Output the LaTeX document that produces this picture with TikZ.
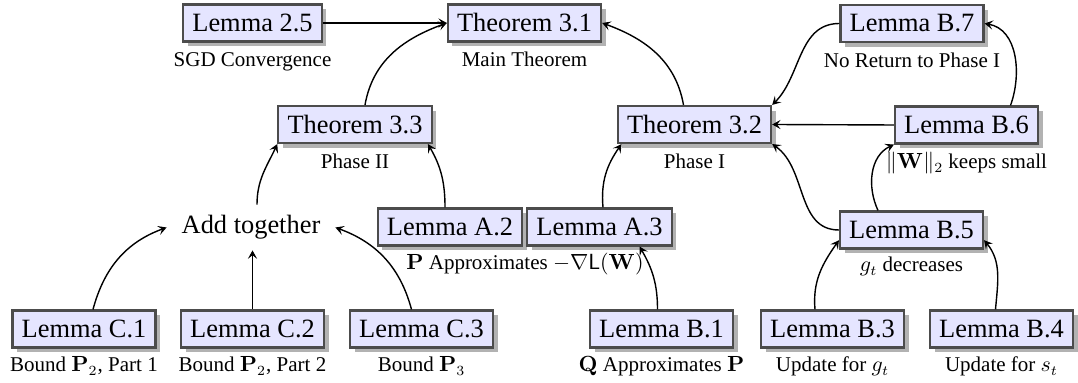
\documentclass[tikz,border=0pt]{standalone}
\usepackage[no-math]{fontspec}
\setmainfont{Liberation Serif}
\usetikzlibrary{shadows,calc,arrows.meta}
\newcommand{\bxfont}{\fontsize{13.2pt}{15pt}\selectfont}
\newcommand{\lbfont}{\fontsize{10.5pt}{12pt}\selectfont}
\tikzset{
  box/.style={draw=black!70, line width=1.05pt, fill=blue!10, font=\bxfont,
    inner xsep=4.6pt, inner ysep=2pt, minimum height=18.5pt,
    drop shadow={shadow xshift=2.3pt, shadow yshift=-2.3pt, fill=black!30, opacity=1}},
  plain/.style={font=\bxfont, inner sep=0pt, minimum width=84pt, minimum height=22.5pt},
  lbl/.style={font=\lbfont, anchor=base, inner sep=0pt},
  arr/.style={-{Stealth[length=4.2pt,width=4.6pt,inset=1.8pt]}, line width=0.7pt},
}
\begin{document}
\begin{tikzpicture}[x=0.5pt,y=0.5pt]
\useasboundingbox (0,0) rectangle (1078,-383);
% row 1
\node[box] (L25) at (252.5,-23) {Lemma 2.5};
\node[box] (T31) at (524.5,-23) {Theorem 3.1};
\node[box] (B7) at (912,-23.5) {Lemma B.7};
% row 2
\node[box] (T33) at (355,-124.5) {Theorem 3.3};
\node[box] (T32) at (694.5,-124.5) {Theorem 3.2};
\node[box] (B6) at (966.5,-125) {Lemma B.6};
% row 3
\node[plain] (Add) at (251,-227.5) {Add together};
\node[box] (A2) at (450,-227) {Lemma A.2};
\node[box] (A3) at (599.5,-227) {Lemma A.3};
\node[box] (B5) at (911.5,-230) {Lemma B.5};
% row 4
\node[box] (C1) at (84,-329) {Lemma C.1};
\node[box] (C2) at (252.5,-329) {Lemma C.2};
\node[box] (C3) at (421.5,-329) {Lemma C.3};
\node[box] (B1) at (661.5,-329) {Lemma B.1};
\node[box] (B3) at (832.5,-329) {Lemma B.3};
\node[box] (B4) at (1001.5,-329) {Lemma B.4};
% labels
\node[lbl] (lL25) at ($(L25)+(0,-44)$) {SGD Convergence};
\node[lbl] (lT31) at ($(T31)+(0,-44)$) {Main Theorem};
\node[lbl] (lB7) at ($(B7)+(0,-44)$) {No Return to Phase I};
\node[lbl] (lT33) at ($(T33)+(0,-44.5)$) {Phase II};
\node[lbl] (lT32) at ($(T32)+(0,-44.5)$) {Phase I};
\node[lbl] (lB6) at ($(B6)+(0,-44)$) {$\|\mathbf{W}\|_2$ keeps small};
\node[lbl] (lA) at (525,-270) {$\mathbf{P}$ Approximates $-\nabla\mathsf{L}(\mathbf{W})$};
\node[lbl] (lB5) at ($(B5)+(0,-42)$) {$g_t$ decreases};
\node[lbl] (lC1) at ($(C1)+(0,-43)$) {Bound $\mathbf{P}_2$, Part 1};
\node[lbl] (lC2) at ($(C2)+(0,-43)$) {Bound $\mathbf{P}_2$, Part 2};
\node[lbl] (lC3) at ($(C3)+(0,-43)$) {Bound $\mathbf{P}_3$};
\node[lbl] (lB1) at ($(B1)+(0,-43)$) {$\mathbf{Q}$ Approximates $\mathbf{P}$};
\node[lbl] (lB3) at ($(B3)+(0,-43)$) {Update for $g_t$};
\node[lbl] (lB4) at ($(B4)+(0,-43)$) {Update for $s_t$};
% edges
\draw[arr] (L25.east) -- (T31.west);
\draw[arr] ([xshift=5pt]T33.north) to[out=80,in=200] (T31.west);
\draw[arr] ([xshift=-5.5pt]T32.north) to[out=100,in=-20] (T31.east);
\draw[arr] (B7.west) to[out=180,in=45] (T32.north east);
\draw[arr] ([xshift=22pt]B6.north) to[out=70,in=-10] (B7.east);
\draw[arr] (B6.west) -- (T32.east);
\draw[arr] (B5.west) to[out=180,in=-35] (T32.south east);
\draw[arr] ([xshift=-16.75pt]B5.north) to[out=115,in=205] (B6.south west);
\draw[arr] ([xshift=-8.75pt]B3.north) to[out=95,in=235] (B5.188);
\draw[arr] ([xshift=-3pt]B4.north) to[out=85,in=-50] (B5.-8);
\draw[arr] ([xshift=-2pt]B1.north) to[out=90,in=-60] (A3.-26);
\draw[arr] ([xshift=1.75pt]A3.north) to[out=95,in=-125] (T32.195);
\draw[arr] ([xshift=-2.5pt]A2.north) to[out=90,in=-60] (T33.-15);
\draw[arr] ([xshift=3pt]Add.north) to[out=90,in=-115] (T33.south west);
\draw[arr] ([xshift=4.5pt]C1.north) to[out=75,in=200] (Add.west);
\draw[arr] (C2.north) -- (C2.north |- Add.south);
\draw[arr] ([xshift=-5pt]C3.north) to[out=105,in=-20] (Add.east);
\end{tikzpicture}
\end{document}
